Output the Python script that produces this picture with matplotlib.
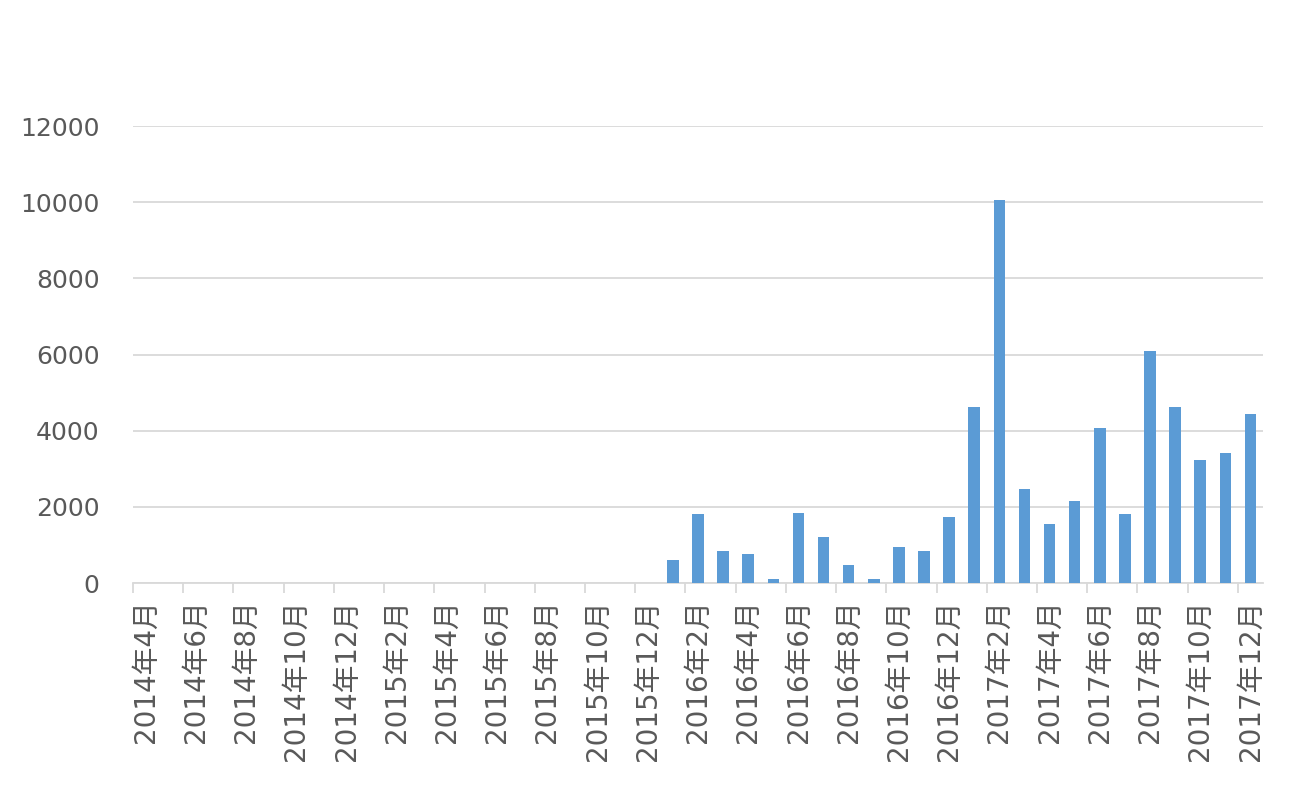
import matplotlib.pyplot as plt
import numpy as np

plt.rcParams['font.family'] = ['DejaVu Sans', 'Noto Sans CJK JP']

# one label every two months, 2014年4月 .. 2017年12月
tick_labels = ['2014年4月', '2014年6月', '2014年8月', '2014年10月', '2014年12月',
               '2015年2月', '2015年4月', '2015年6月', '2015年8月', '2015年10月', '2015年12月',
               '2016年2月', '2016年4月', '2016年6月', '2016年8月', '2016年10月', '2016年12月',
               '2017年2月', '2017年4月', '2017年6月', '2017年8月', '2017年10月', '2017年12月']

# monthly values, 2014年4月 .. 2015年12月 empty
values = [0] * 21 + [600, 1800, 830, 770, 110, 1850, 1200, 470, 110, 950, 830, 1730,
                     4610, 10050, 2460, 1560, 2160, 4070, 1800, 6100, 4610, 3240, 3410, 4430]

fig = plt.figure(figsize=(13, 7.9), dpi=100)
ax = fig.add_axes([0.1023, 0.262, 0.8692, 0.5785])

x = np.arange(len(values))
ax.bar(x, values, width=0.46, color='#5B9BD5', zorder=3)

ax.set_xlim(-0.5, len(values) - 0.5)
ax.set_ylim(0, 12000)
ax.set_yticks(range(0, 12001, 2000))
ax.yaxis.grid(True, color='#D9D9D9', linewidth=1.3)
ax.set_axisbelow(True)

for s in ['top', 'right', 'left']:
    ax.spines[s].set_visible(False)
ax.spines['bottom'].set_color('#D9D9D9')
ax.spines['bottom'].set_linewidth(1.3)

ax.set_xticks(x[::2])
ax.set_xticklabels(tick_labels, rotation=90)
ax.set_xticks(np.arange(-0.5, len(values) - 1, 2), minor=True)
ax.tick_params(axis='x', which='major', length=0, pad=12, labelsize=20, labelcolor='#595959')
ax.tick_params(axis='x', which='minor', length=7, color='#D9D9D9', width=1.3)
ax.tick_params(axis='y', length=0, pad=24, labelsize=18, labelcolor='#595959')

fig.savefig('out.png')
